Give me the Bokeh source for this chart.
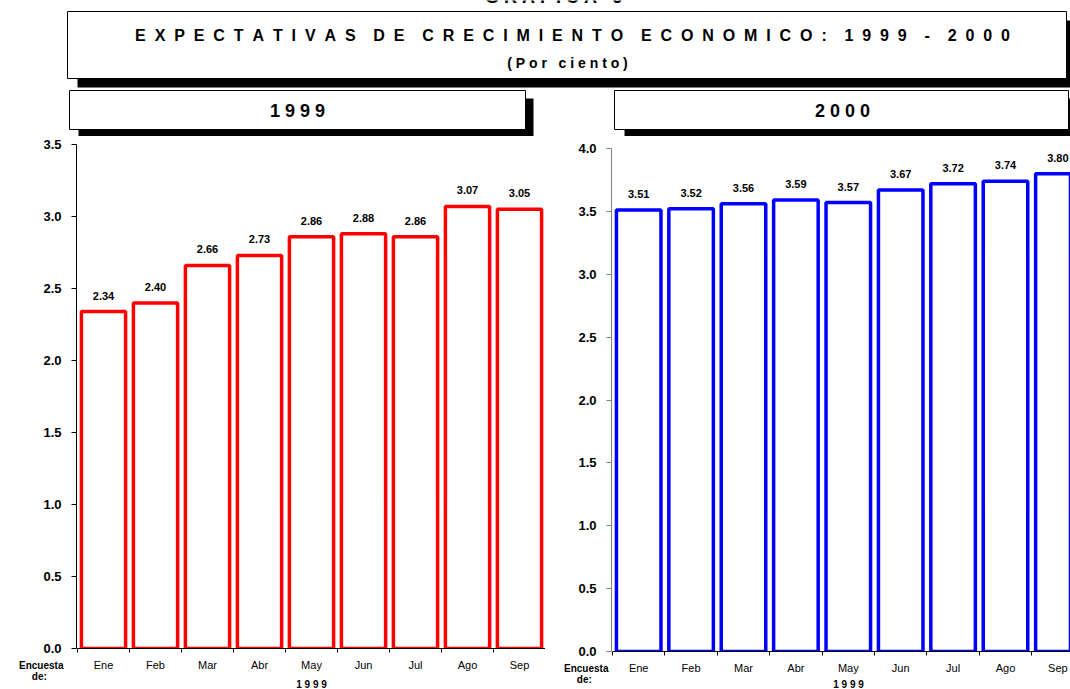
from bokeh.plotting import figure
from bokeh.layouts import column, row
from bokeh.models import Range1d, FixedTicker, ColumnDataSource, NumeralTickFormatter
from bokeh.embed import file_html
from bokeh.resources import INLINE
from bokeh.core.properties import value

# ---------------- data ----------------
months = ["Ene", "Feb", "Mar", "Abr", "May", "Jun", "Jul", "Ago", "Sep"]
exp_1999 = [2.34, 2.40, 2.66, 2.73, 2.86, 2.88, 2.86, 3.07, 3.05]
exp_2000 = [3.51, 3.52, 3.56, 3.59, 3.57, 3.67, 3.72, 3.74, 3.80]
y_ticks_1999 = [0.0, 0.5, 1.0, 1.5, 2.0, 2.5, 3.0, 3.5]
y_ticks_2000 = [0.0, 0.5, 1.0, 1.5, 2.0, 2.5, 3.0, 3.5, 4.0]
chart_number = "GRAFICA 6"
title_text = "EXPECTATIVAS DE CRECIMIENTO ECONOMICO: 1999 - 2000"
subtitle_text = "(Por ciento)"
panel_titles = ["1999", "2000"]
survey_label = ["Encuesta", "de:"]
survey_year = "1999"

FONT = "Liberation Sans"
NB = "\u00a0"


def spaced(s, n=1, w=3):
    return (NB * w).join((NB * n).join(word) for word in s.split(" "))


def bare(width, height, x0, x1, y0, y1):
    f = figure(width=width, height=height, x_range=Range1d(x0, x1), y_range=Range1d(y0, y1),
               x_axis_type=None, y_axis_type=None, output_backend="svg",
               toolbar_location=None, min_border=0, outline_line_color=None)
    f.grid.visible = False
    return f


def txt(f, x, y, t, size, bold=True, color="black"):
    f.text(x=x, y=y, text=t, text_align="center", text_baseline="middle",
           text_font=value(FONT), text_font_style="bold" if bold else "normal",
           text_font_size=size, text_color=color)


# ---------------- header (page coordinates) ----------------
hdr = bare(1070, 136, 0, 1070, 136, 0)
hdr.quad(left=[77, 78, 624], right=[1076, 533, 1078], top=[20, 98, 98], bottom=[87, 137, 137],
         fill_color="black", line_color=None)
hdr.quad(left=[67, 69, 614], right=[1066, 525, 1068], top=[11, 90, 90], bottom=[78, 129, 129],
         fill_color="white", line_color="black", line_width=1)
txt(hdr, [553], [-4], [spaced(chart_number)], "18px")
txt(hdr, [572], [35], [spaced(title_text, 2, 4)], "16px")
txt(hdr, [567], [62], [spaced(subtitle_text)], "14px")
txt(hdr, [297, 842], [110, 110], [spaced(t) for t in panel_titles], "18px")


# ---------------- y-axis strips ----------------
def yaxis_fig(width, height, ymax, yticks, axis_color, mbt, mbb):
    f = figure(width=width, height=height, x_range=Range1d(0, 1), y_range=Range1d(0, ymax),
               x_axis_location=None, output_backend="svg", toolbar_location=None,
               min_border_left=width - 1, min_border_right=0, min_border_top=mbt,
               min_border_bottom=mbb, outline_line_color=None)
    f.grid.visible = False
    ya = f.yaxis[0]
    ya.ticker = FixedTicker(ticks=yticks)
    ya.formatter = NumeralTickFormatter(format="0.0")
    ya.axis_line_color = axis_color
    ya.major_tick_line_color = axis_color
    ya.major_tick_out = 5
    ya.major_tick_in = 0
    ya.minor_tick_out = 0
    ya.minor_tick_in = 0
    ya.major_label_standoff = 10
    ya.major_label_text_font = FONT
    ya.major_label_text_font_style = "bold"
    ya.major_label_text_font_size = "13px"
    ya.major_label_text_color = "black"
    return f


# "Encuesta / de:" as the labels of a small axis below each y-axis strip
def survey_fig(width, height, standoff, pad):
    f = figure(width=width, height=height, x_range=Range1d(0, 1), y_range=Range1d(height, 0),
               x_axis_location=None, output_backend="svg", toolbar_location=None,
               min_border_left=width - 1, min_border_right=0, min_border_top=0,
               min_border_bottom=0, outline_line_color=None)
    f.grid.visible = False
    ya = f.yaxis[0]
    rows = [10, 21]
    ya.ticker = FixedTicker(ticks=rows)
    ya.major_label_overrides = {rows[0]: survey_label[0], rows[1]: survey_label[1] + NB * pad}
    ya.axis_line_color = None
    ya.major_tick_line_color = None
    ya.major_tick_out = 0
    ya.major_tick_in = 0
    ya.minor_tick_out = 0
    ya.minor_tick_in = 0
    ya.major_label_standoff = standoff
    ya.major_label_text_font = FONT
    ya.major_label_text_font_style = "bold"
    ya.major_label_text_font_size = "10px"
    ya.major_label_text_color = "black"
    return f


# ---------------- charts ----------------
def chart(vals, ymax, color, width, height, mbt, mbb, xmax):
    p = figure(width=width, height=height, x_range=Range1d(0, xmax), y_range=Range1d(0, ymax),
               y_axis_location=None, output_backend="svg", toolbar_location=None,
               min_border_left=0, min_border_right=0, min_border_top=mbt,
               min_border_bottom=mbb, outline_line_color=None)
    p.grid.visible = False
    xs = [i + 0.5 for i in range(len(months))]
    src = ColumnDataSource(dict(x=xs, top=vals, label=["%.2f" % v for v in vals]))
    p.vbar(x="x", top="top", bottom=0, width=0.85, source=src,
           fill_color="white", line_color=color, line_width=3.5)
    p.text(x="x", y="top", text="label", source=src, text_align="center",
           text_baseline="middle", y_offset=-16, text_font=value(FONT),
           text_font_style="bold", text_font_size="11px", text_color="black")

    xa = p.xaxis[0]
    xa.ticker = FixedTicker(ticks=xs, minor_ticks=list(range(len(months) + 1)))
    xa.major_label_overrides = {x: m for x, m in zip(xs, months)}
    xa.axis_line_color = "black"
    xa.major_tick_out = 0
    xa.major_tick_in = 0
    xa.minor_tick_out = 4
    xa.minor_tick_in = 0
    xa.minor_tick_line_color = "black"
    xa.major_label_standoff = 6
    xa.major_label_text_font = FONT
    xa.major_label_text_font_size = "11px"
    xa.major_label_text_color = "black"
    return p


# left block: y axis 0..77, chart 77..545   (rows start at page y = 136)
y1 = yaxis_fig(77, 519, 3.5, y_ticks_1999, "black", 8, 7)
enc1 = survey_fig(77, 34, 13, 6)
c1 = chart(exp_1999, 3.5, "#ff0000", 468, 542, 8, 30, 9)
s1 = bare(468, 11, 0, 468, 11, 0)
txt(s1, [234], [5], [spaced(survey_year)], "10px")

# right block: y axis 545..612, chart 612..1070
y2 = yaxis_fig(67, 522, 4.0, y_ticks_2000, "#808080", 12, 7)
enc2 = survey_fig(67, 31, 3, 6)
c2 = chart(exp_2000, 4.0, "#0000ff", 458, 542, 12, 27, 458 / 52.4)
s2 = bare(458, 11, 0, 458, 11, 0)
txt(s2, [236], [5], [spaced(survey_year)], "10px")

layout = column(
    hdr,
    row(column(y1, enc1), column(c1, s1), column(y2, enc2), column(c2, s2)),
)

with open("out.html", "w") as f:
    f.write(file_html(layout, INLINE))
